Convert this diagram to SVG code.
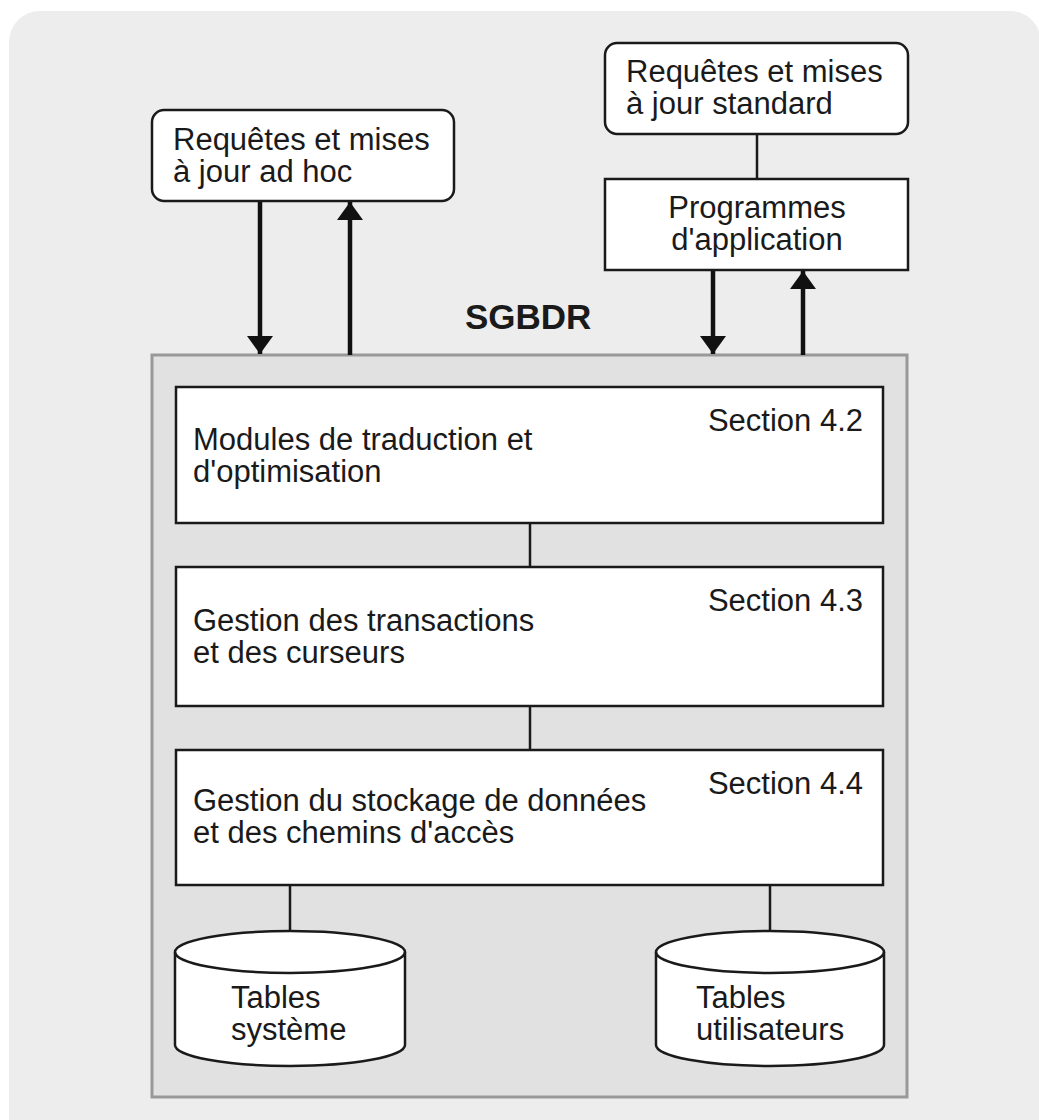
<svg xmlns="http://www.w3.org/2000/svg" width="1039" height="1120" viewBox="0 0 1039 1120">
<style>
  .t { font-family: "Liberation Sans", Arial, sans-serif; font-size: 31px; fill: #1a1a1a; }
  .b { font-family: "Liberation Sans", Arial, sans-serif; font-size: 35px; font-weight: bold; fill: #1a1a1a; }
  .box { fill: #ffffff; stroke: #1a1a1a; stroke-width: 2.5; }
  .ln { stroke: #1a1a1a; stroke-width: 2.5; fill: none; }
  .ar { stroke: #111; stroke-width: 4.5; fill: none; }
</style>
<defs>
  <marker id="ah" viewBox="0 0 18 26" refX="18" refY="13" markerWidth="18" markerHeight="26" markerUnits="userSpaceOnUse" orient="auto">
    <path d="M0,0 L18,13 L0,26 Z" fill="#111"/>
  </marker>
</defs>
<rect x="0" y="0" width="1039" height="1120" fill="#ffffff"/>
<rect x="9" y="11" width="1032" height="1140" rx="31" fill="#ecedec"/>

<g id="sgbdr">
  <rect x="152" y="355" width="755" height="742" fill="#e1e1e1" stroke="#999999" stroke-width="3"/>
  <text class="b" x="465" y="329">SGBDR</text>
</g>

<g id="connectors">
  <line class="ar" x1="260" y1="202" x2="260" y2="354" marker-end="url(#ah)"/>
  <line class="ar" x1="350" y1="355" x2="350" y2="202" marker-end="url(#ah)" stroke-width="5"/>
  <line class="ar" x1="713" y1="270" x2="713" y2="354" marker-end="url(#ah)"/>
  <line class="ar" x1="803" y1="355" x2="803" y2="271" marker-end="url(#ah)" stroke-width="5"/>
  <line class="ln" x1="757" y1="134" x2="757" y2="179"/>
  <line class="ln" x1="530" y1="523" x2="530" y2="567"/>
  <line class="ln" x1="530" y1="706" x2="530" y2="750"/>
  <line class="ln" x1="290" y1="885" x2="290" y2="931"/>
  <line class="ln" x1="770" y1="885" x2="770" y2="931"/>
</g>

<g id="adhoc">
  <rect class="box" x="152" y="110" width="302" height="91" rx="12"/>
  <text class="t" x="173" y="150">Requêtes et mises</text>
  <text class="t" x="173" y="182">à jour ad hoc</text>
</g>

<g id="standard">
  <rect class="box" x="605" y="43" width="303" height="91" rx="12"/>
  <text class="t" x="626" y="82">Requêtes et mises</text>
  <text class="t" x="626" y="114">à jour standard</text>
</g>

<g id="programmes">
  <rect class="box" x="605" y="179" width="303" height="91"/>
  <text class="t" x="757" y="218" text-anchor="middle">Programmes</text>
  <text class="t" x="757" y="250" text-anchor="middle">d'application</text>
</g>

<g id="traduction">
  <rect class="box" x="176" y="387" width="707" height="136"/>
  <text class="t" x="863" y="431" text-anchor="end">Section 4.2</text>
  <text class="t" x="193" y="450">Modules de traduction et</text>
  <text class="t" x="193" y="482">d'optimisation</text>
</g>

<g id="transactions">
  <rect class="box" x="176" y="567" width="707" height="139"/>
  <text class="t" x="863" y="611" text-anchor="end">Section 4.3</text>
  <text class="t" x="193" y="631">Gestion des transactions</text>
  <text class="t" x="193" y="663">et des curseurs</text>
</g>

<g id="stockage">
  <rect class="box" x="176" y="750" width="707" height="135"/>
  <text class="t" x="863" y="794" text-anchor="end">Section 4.4</text>
  <text class="t" x="193" y="811">Gestion du stockage de données</text>
  <text class="t" x="193" y="843">et des chemins d'accès</text>
</g>

<g id="tables-systeme">
  <path class="box" d="M175,952 A115,21 0 0 1 405,952 L405,1045 A115,21 0 0 1 175,1045 Z"/>
  <path class="ln" d="M175,952 A115,21 0 0 0 405,952"/>
  <text class="t" x="231" y="1008">Tables</text>
  <text class="t" x="231" y="1040">système</text>
</g>

<g id="tables-utilisateurs">
  <path class="box" d="M656,952 A114,21 0 0 1 884,952 L884,1045 A114,21 0 0 1 656,1045 Z"/>
  <path class="ln" d="M656,952 A114,21 0 0 0 884,952"/>
  <text class="t" x="696" y="1008">Tables</text>
  <text class="t" x="696" y="1040">utilisateurs</text>
</g>
</svg>
